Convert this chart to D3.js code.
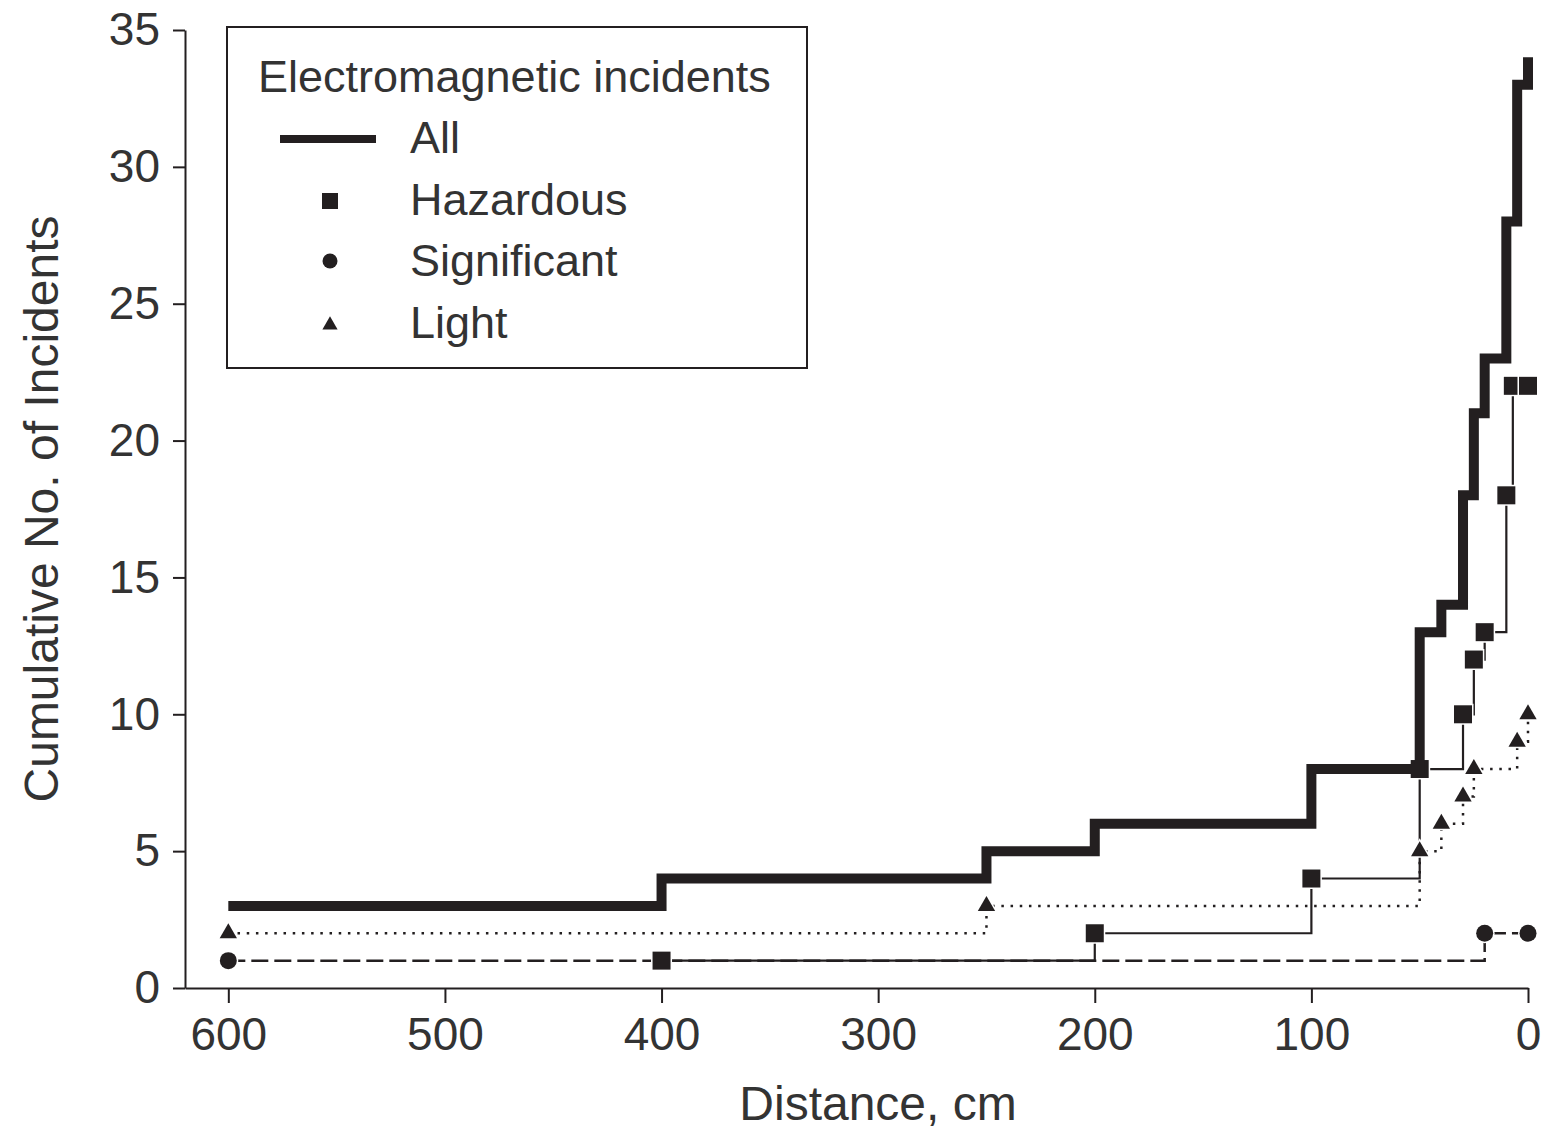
<!DOCTYPE html>
<html>
<head>
<meta charset="utf-8">
<style>
    body { margin: 0; background: #fff; }
    svg text { font-family: "Liberation Sans", Arial, sans-serif; fill: #333; }
    .axis .domain, .axis line { stroke: #231f20; stroke-width: 2; }
</style>
</head>
<body>
<svg width="1550" height="1135"></svg>
<script src="https://cdn.jsdelivr.net/npm/d3@7"></script>
<script>
    // data (distance in cm, cumulative count)
    var allDist   = [600, 400, 250, 200, 100, 50, 40, 30, 25, 20, 10, 5, 0];
    var allCount  = [3, 4, 5, 6, 8, 13, 14, 18, 21, 23, 28, 33, 34];
    var hazDist   = [400, 200, 100, 50, 30, 25, 20, 10, 7, 0];
    var hazCount  = [1, 2, 4, 8, 10, 12, 13, 18, 22, 22];
    var sigDist   = [600, 20, 0];
    var sigCount  = [1, 2, 2];
    var lightDist  = [600, 250, 50, 40, 30, 25, 5, 0];
    var lightCount = [2, 3, 5, 6, 7, 8, 9, 10];

    var xMajor = [600, 500, 400, 300, 200, 100, 0];
    var xMinor = [550, 450, 350, 250, 150, 50];
    var yMajor = [0, 5, 10, 15, 20, 25, 30, 35];
    var yMinor = d3.range(0, 36);

    var legendItems = ["All", "Hazardous", "Significant", "Light"];

    var svg = d3.select("svg");
    var ink = "#231f20";

    var x = d3.scaleLinear().domain([620, 0]).range([185, 1528]);
    var y = d3.scaleLinear().domain([0, 35]).range([988, 30]);

    function pts(ds, cs) {
        return ds.map(function(d, i) { return [d, cs[i]]; });
    }

    var line = d3.line()
        .x(function(d) { return x(d[0]); })
        .y(function(d) { return y(d[1]); })
        .curve(d3.curveStepAfter);

    // axes
    var gx = svg.append("g").attr("class", "axis")
        .attr("transform", "translate(0,988)");
    gx.call(d3.axisBottom(x).tickValues(xMinor).tickSize(15).tickSizeOuter(0).tickFormat(""));
    gx.call(d3.axisBottom(x).tickValues(xMajor).tickSize(15).tickSizeOuter(0).tickPadding(14));
    gx.selectAll("text").attr("font-size", 46);

    var gy = svg.append("g").attr("class", "axis")
        .attr("transform", "translate(185,0)");
    gy.call(d3.axisLeft(y).tickValues(yMinor).tickSize(12).tickSizeOuter(0).tickFormat(""));
    gy.call(d3.axisLeft(y).tickValues(yMajor).tickSize(12).tickSizeOuter(0).tickPadding(13));
    gy.selectAll("text").attr("font-size", 46);

    svg.append("text")
        .attr("x", 878).attr("y", 1120)
        .attr("text-anchor", "middle").attr("font-size", 48)
        .text("Distance, cm");

    svg.append("text")
        .attr("transform", "translate(58,509) rotate(-90)")
        .attr("text-anchor", "middle").attr("font-size", 48)
        .text("Cumulative No. of Incidents");

    // series lines
    svg.append("path").datum(pts(sigDist, sigCount))
        .attr("d", line).attr("fill", "none")
        .attr("stroke", ink).attr("stroke-width", 2.5)
        .attr("stroke-dasharray", "17,6");

    svg.append("path").datum(pts(lightDist, lightCount))
        .attr("d", line).attr("fill", "none")
        .attr("stroke", ink).attr("stroke-width", 2.5)
        .attr("stroke-dasharray", "2.5,6.7");

    svg.append("path").datum(pts(hazDist, hazCount))
        .attr("d", line).attr("fill", "none")
        .attr("stroke", ink).attr("stroke-width", 2.2);

    // markers
    var sq = d3.symbol().type(d3.symbolSquare).size(18 * 18);
    var circ = d3.symbol().type(d3.symbolCircle).size(Math.PI * 8.5 * 8.5);
    var tri = d3.symbol().type(d3.symbolTriangle).size(130);

    function markers(data, sym) {
        svg.append("g").selectAll("path")
            .data(data).enter().append("path")
            .attr("transform", function(d) { return "translate(" + x(d[0]) + "," + y(d[1]) + ")"; })
            .attr("d", sym)
            .attr("fill", ink)
            .attr("stroke", "#fff").attr("stroke-width", 3)
            .attr("paint-order", "stroke");
    }
    markers(pts(sigDist, sigCount), circ);
    markers(pts(lightDist, lightCount), tri);
    markers(pts(hazDist, hazCount), sq);

    // all incidents, thick step line
    svg.append("path").datum(pts(allDist, allCount))
        .attr("d", line).attr("fill", "none")
        .attr("stroke", ink).attr("stroke-width", 10);

    // legend
    var lg = svg.append("g");
    lg.append("rect")
        .attr("x", 227).attr("y", 27).attr("width", 580).attr("height", 341)
        .attr("fill", "#fff").attr("stroke", ink).attr("stroke-width", 2);
    lg.append("text").attr("x", 258).attr("y", 92).attr("font-size", 45)
        .text("Electromagnetic incidents");

    lg.selectAll("text.item").data(legendItems).enter().append("text")
        .attr("class", "item")
        .attr("x", 410)
        .attr("y", function(d, i) { return 153 + i * 61.5; })
        .attr("font-size", 45)
        .text(function(d) { return d; });

    lg.append("line").attr("x1", 280).attr("x2", 376).attr("y1", 139).attr("y2", 139)
        .attr("stroke", ink).attr("stroke-width", 8);
    lg.append("path").attr("transform", "translate(330,201)")
        .attr("d", d3.symbol().type(d3.symbolSquare).size(16 * 16)).attr("fill", ink);
    lg.append("path").attr("transform", "translate(330,261)")
        .attr("d", d3.symbol().type(d3.symbolCircle).size(Math.PI * 7.5 * 7.5)).attr("fill", ink);
    lg.append("path").attr("transform", "translate(330,325)")
        .attr("d", d3.symbol().type(d3.symbolTriangle).size(100)).attr("fill", ink);
</script>
</body>
</html>
